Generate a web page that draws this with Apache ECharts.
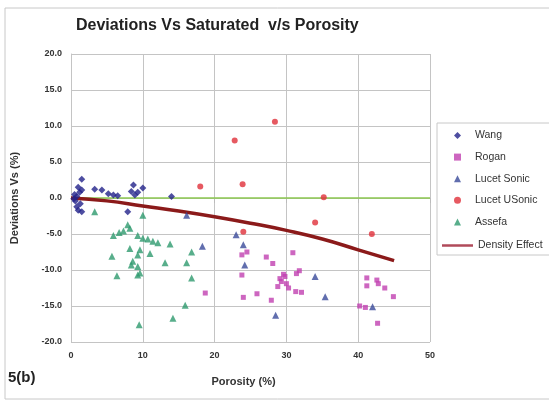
<!DOCTYPE html>
<html><head><meta charset="utf-8">
<script src="https://cdn.jsdelivr.net/npm/echarts@6/dist/echarts.min.js"></script>
<style>html,body{margin:0;padding:0;background:#fff}#c{width:549px;height:402px}</style>
</head><body><div id="c"></div>
<script>
// Data: [porosity %, deviation %]
const wang = [[0.5,0.5],[0.8,0.2],[0.6,-0.4],[0.8,-1.2],[1.0,-1.7],[1.5,-1.9],[1.0,1.5],[1.5,1.1],[1.5,2.6],[0.4,-0.1],[1.2,0.8],[1.3,-0.8],[3.3,1.2],[4.3,1.1],[5.2,0.6],[5.9,0.4],[6.5,0.3],[8.7,1.8],[10.0,1.4],[8.4,0.9],[8.9,0.4],[9.3,0.8],[7.9,-1.9],[14.0,0.2]];
const rogan = [[23.8,-7.9],[24.5,-7.5],[23.8,-10.7],[18.7,-13.2],[24.0,-13.8],[25.9,-13.3],[27.2,-8.2],[28.1,-9.1],[30.9,-7.6],[27.9,-14.2],[29.1,-11.2],[29.8,-10.9],[28.8,-12.3],[30.0,-11.9],[30.3,-12.5],[31.4,-10.5],[31.8,-10.1],[31.3,-13.0],[32.1,-13.1],[29.3,-11.6],[29.6,-10.6],[41.2,-11.1],[41.2,-12.2],[42.6,-11.4],[42.8,-11.9],[43.7,-12.5],[44.9,-13.7],[40.2,-15.0],[41.0,-15.2],[42.7,-17.4]];
const lucetSonic = [[18.3,-6.7],[23.0,-5.1],[24.0,-6.5],[24.2,-9.3],[34.0,-10.9],[35.4,-13.7],[28.5,-16.3],[42.0,-15.1],[16.1,-2.4]];
const lucetUSonic = [[22.8,8.0],[28.4,10.6],[23.9,1.9],[18.0,1.6],[35.2,0.1],[34.0,-3.4],[41.9,-5.0],[24.0,-4.7]];
const assefa = [[5.9,-5.2],[6.7,-4.8],[7.3,-4.6],[7.9,-3.7],[8.2,-4.2],[9.3,-5.2],[10.0,-5.6],[10.7,-5.7],[11.4,-6.0],[12.1,-6.2],[13.8,-6.4],[3.3,-1.9],[10.0,-2.4],[5.7,-8.1],[8.2,-7.0],[9.6,-7.2],[11.0,-7.7],[9.3,-7.9],[8.6,-8.8],[8.4,-9.3],[9.3,-9.5],[9.6,-10.4],[6.4,-10.8],[9.3,-10.7],[13.1,-9.0],[16.8,-7.5],[16.1,-9.0],[16.8,-11.1],[15.9,-14.9],[14.2,-16.7],[9.5,-17.6]];
const densityEffect = [[0,0],[5,-0.4],[10,-1.1],[15,-1.8],[20,-2.6],[25,-3.5],[30,-4.5],[35,-5.7],[40,-7.2],[45,-8.7]];
const zeroLine = [[0,0],[50,0]];
const xTicks = {min:0,max:50,interval:10};
const yTicks = {min:-20,max:20,interval:5};

const FF = 'Liberation Sans, Arial, sans-serif';
const chart = echarts.init(document.getElementById('c'));
const tickFont = {fontFamily:FF,fontSize:9,fontWeight:'bold',color:'#333'};
const legendText = {fontFamily:FF,fontSize:10.5,color:'#333'};
chart.setOption({
  animation:false,
  backgroundColor:'#fff',
  title:{text:'Deviations Vs Saturated  v/s Porosity',left:71,top:13,textStyle:{fontFamily:FF,fontSize:16,fontWeight:'bold',color:'#222'}},
  grid:{left:71,right:119,top:54,bottom:60},
  xAxis:{type:'value',min:xTicks.min,max:xTicks.max,interval:xTicks.interval,
    name:'Porosity (%)',nameLocation:'middle',nameGap:34,
    nameTextStyle:{fontFamily:FF,fontSize:11,fontWeight:'bold',color:'#333',padding:[0,14,0,0]},
    axisLine:{lineStyle:{color:'#bbb'}},axisTick:{show:true,lineStyle:{color:'#bbb'}},
    axisLabel:Object.assign({margin:9},tickFont),
    splitLine:{show:true,lineStyle:{color:'#c4c4c4'}}},
  yAxis:{type:'value',min:yTicks.min,max:yTicks.max,interval:yTicks.interval,
    name:'Deviations Vs (%)',nameLocation:'middle',nameGap:51,
    nameTextStyle:{fontFamily:FF,fontSize:11,fontWeight:'bold',color:'#333'},
    axisLine:{show:true,lineStyle:{color:'#c4c4c4'}},axisTick:{show:false},
    axisLabel:Object.assign({margin:9,formatter:v=>v.toFixed(1)},tickFont),
    splitLine:{show:true,lineStyle:{color:'#c4c4c4'}}},
  legend:[
    {orient:'vertical',left:454,top:130,padding:0,itemWidth:7,itemHeight:7,itemGap:10.6,
      textStyle:Object.assign({padding:[0,0,0,9]},legendText),
      data:['Wang','Rogan','Lucet Sonic','Lucet USonic','Assefa']},
    {orient:'vertical',left:442,top:240,padding:0,itemWidth:31,itemHeight:2.5,
      textStyle:Object.assign({padding:[0,0,0,0]},legendText),
      data:[{name:'Density Effect',icon:'rect',itemStyle:{color:'#b04a5a'}}]}
  ],
  graphic:[
    {type:'rect',shape:{x:5,y:8,width:560,height:391},style:{fill:'none',stroke:'#c8c8c8',lineWidth:1},silent:true},
    {type:'rect',shape:{x:437,y:123,width:130,height:132},style:{fill:'none',stroke:'#c8c8c8',lineWidth:1},silent:true},
    {type:'text',left:8,top:370,style:{text:'5(b)',font:'bold 15px Liberation Sans, Arial, sans-serif',fill:'#222'}}
  ],
  series:[
    {name:'Zero',type:'line',data:zeroLine,symbol:'none',lineStyle:{color:'#8dc850',width:1.5},z:1},
    {name:'Density Effect',type:'line',data:densityEffect,symbol:'none',smooth:true,lineStyle:{color:'#8b1a1a',width:3.5},itemStyle:{color:'#8b1a1a'},z:2},
    {name:'Wang',type:'scatter',data:wang,symbol:'diamond',symbolSize:7,itemStyle:{color:'#22228a'},z:3},
    {name:'Rogan',type:'scatter',data:rogan,symbol:'rect',symbolSize:5,itemStyle:{color:'#c040b0'},z:3},
    {name:'Lucet Sonic',type:'scatter',data:lucetSonic,symbol:'triangle',symbolSize:7,itemStyle:{color:'#3a4a9a'},z:3},
    {name:'Lucet USonic',type:'scatter',data:lucetUSonic,symbol:'circle',symbolSize:6,itemStyle:{color:'#e0303a'},z:3},
    {name:'Assefa',type:'scatter',data:assefa,symbol:'triangle',symbolSize:7,itemStyle:{color:'#2e9a6e'},z:3}
  ]
});
</script></body></html>
